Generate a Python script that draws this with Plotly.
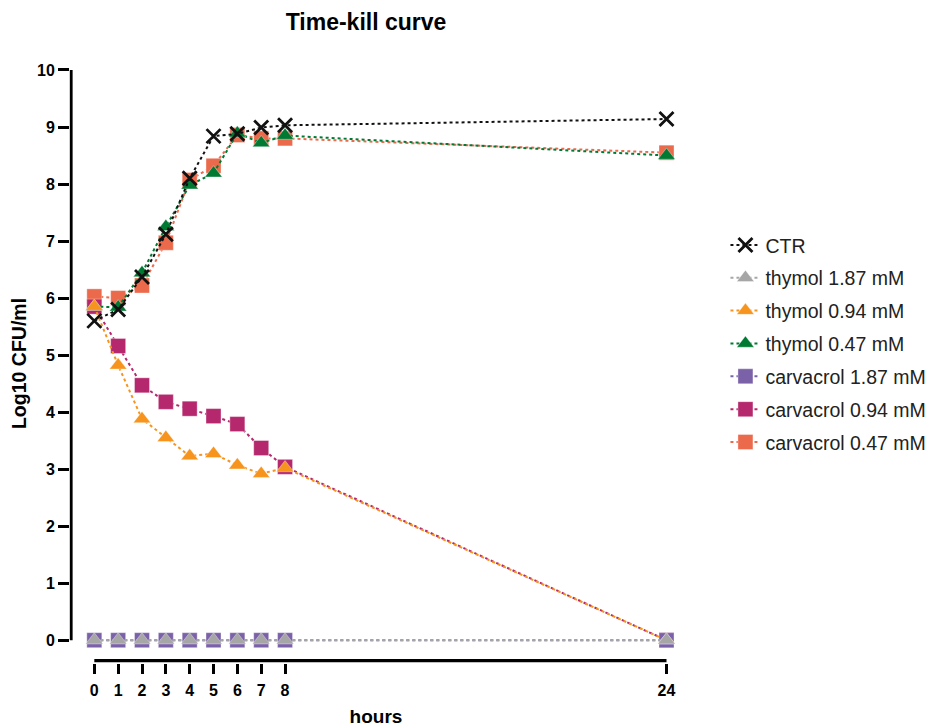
import plotly.graph_objects as go

hours = [0, 1, 2, 3, 4, 5, 6, 7, 8, 24]
x_ticks = [0, 1, 2, 3, 4, 5, 6, 7, 8, 24]

ctr = [5.60, 5.80, 6.37, 7.12, 8.10, 8.84, 8.88, 8.99, 9.03, 9.14]
thymol_187 = [0, 0, 0, 0, 0, 0, 0, 0, 0, 0]
thymol_094 = [5.85, 4.82, 3.88, 3.55, 3.23, 3.27, 3.07, 2.92, 3.02, 0]
thymol_047 = [5.85, 5.84, 6.44, 7.25, 7.98, 8.19, 8.89, 8.72, 8.85, 8.50]
carv_187 = [0, 0, 0, 0, 0, 0, 0, 0, 0, 0]
carv_094 = [5.85, 5.16, 4.47, 4.18, 4.06, 3.93, 3.79, 3.37, 3.04, 0]
carv_047 = [6.03, 6.00, 6.22, 6.97, 8.07, 8.32, 8.86, 8.80, 8.80, 8.55]

FONT = "Arial, Liberation Sans, sans-serif"

# (name, values, color, symbol, legend rank), listed in drawing order
series = [
    ("carvacrol 0.47 mM", carv_047, "#EC6A4C", "square", 7),
    ("carvacrol 0.94 mM", carv_094, "#B5286D", "square", 6),
    ("carvacrol 1.87 mM", carv_187, "#7B61A8", "square", 5),
    ("thymol 0.47 mM", thymol_047, "#007A33", "triangle-up", 4),
    ("thymol 0.94 mM", thymol_094, "#F7941D", "triangle-up", 3),
    ("thymol 1.87 mM", thymol_187, "#A6A6A6", "triangle-up", 2),
]

fig = go.Figure()
for name, vals, color, sym, rank in series:
    fig.add_trace(go.Scatter(
        x=hours, y=vals, name=name, mode="lines+markers", cliponaxis=False,
        line=dict(color=color, width=2, dash="dot"),
        marker=dict(symbol=sym, size=15, color=color,
                    line=dict(color="rgba(255,255,255,0.35)", width=1)),
        legendrank=rank, legendgroup=name,
    ))

fig.add_trace(go.Scatter(
    x=hours, y=ctr, name="CTR", mode="lines+markers", cliponaxis=False,
    line=dict(color="#111111", width=2, dash="dot"),
    marker=dict(symbol="x-thin", size=14, color="#111111",
                line=dict(color="#111111", width=2.8)),
    legendrank=1, legendgroup="CTR",
))

# GraphPad-style offset axis lines
fig.add_shape(type="line", xref="paper", yref="y", x0=0.002, x1=0.002, y0=0, y1=10,
              line=dict(color="black", width=2.8), layer="above")
fig.add_shape(type="line", xref="x", yref="y domain", x0=0, x1=24, y0=0.004, y1=0.004,
              line=dict(color="black", width=3.2), layer="above")

fig.update_layout(
    width=934, height=727,
    paper_bgcolor="white", plot_bgcolor="white",
    margin=dict(l=62, r=260, t=56, b=72, autoexpand=False),
    font=dict(family=FONT, color="black"),
    title=dict(text="<b>Time-kill curve</b>", x=358 / 934, xanchor="center",
               y=1 - 14 / 727, yanchor="middle", font=dict(size=23)),
    showlegend=True,
    legend=dict(x=1.071, xanchor="left", y=0.533, yanchor="middle",
                font=dict(size=19.5, color="#222"), tracegroupgap=4.5,
                itemwidth=30),
)
fig.update_xaxes(
    range=[-1.02, 24.65], tickvals=x_ticks,
    ticktext=[f"<b>{v}</b>" for v in x_ticks],
    showline=False, showgrid=False, zeroline=False, automargin=False,
    ticks="outside", ticklen=10, tickwidth=2.5, tickcolor="black",
    tickfont=dict(size=16, family=FONT), ticklabelstandoff=3,
    title=dict(text="<b>hours</b>", font=dict(size=19), standoff=11),
)
fig.update_yaxes(
    range=[-0.40, 10.105], tickvals=list(range(0, 11)),
    ticktext=[f"<b>{v}</b>" for v in range(0, 11)],
    showline=False, showgrid=False, zeroline=False, automargin=False,
    ticks="outside", ticklen=11, tickwidth=2.5, tickcolor="black",
    tickfont=dict(size=16, family=FONT),
    title=dict(text="<b>Log10 CFU/ml</b>", font=dict(size=19.5), standoff=10),
)

fig.write_html("out.html")
